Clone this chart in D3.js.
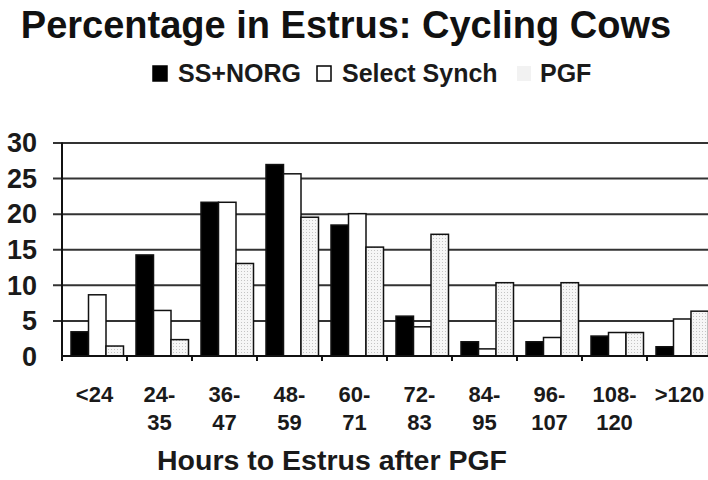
<html lang='en'>
<head>
    <meta content='text/html; charset=utf-8' http-equiv='Content-Type'>
    <title>Percentage in Estrus</title>
    <script src="https://d3js.org/d3.v7.min.js"></script>
    <style>
        body { margin: 0; background: #fff; }
        svg { font-family: "Liberation Sans", Arial, sans-serif; font-weight: bold; }
        .grid line { stroke: #333; stroke-width: 2px; }
        .grid path { display: none; }
        .axis path, .axis line { stroke: #111; stroke-width: 2px; fill: none; }
    </style>
</head>
<body>
<script>
var categories = ["<24", "24-35", "36-47", "48-59", "60-71", "72-83", "84-95", "96-107", "108-120", ">120"];
var tickLines = [["<24"], ["24-", "35"], ["36-", "47"], ["48-", "59"], ["60-", "71"], ["72-", "83"], ["84-", "95"], ["96-", "107"], ["108-", "120"], [">120"]];
var seriesNames = ["SS+NORG", "Select Synch", "PGF"];
var ssNorg      = [3.4, 14.2, 21.6, 26.9, 18.4, 5.6, 2.0, 2.0, 2.8, 1.3];
var selectSynch = [8.6, 6.4, 21.6, 25.6, 20.0, 4.1, 1.0, 2.6, 3.3, 5.2];
var pgf         = [1.4, 2.3, 13.0, 19.5, 15.3, 17.1, 10.3, 10.3, 3.3, 6.3];
var yTicks = [0, 5, 10, 15, 20, 25, 30];

var values = [ssNorg, selectSynch, pgf];
var width = 708, height = 480;
var plotLeft = 62, plotBottom = 356, plotTop = 142.5, plotRight = 712;

var svg = d3.select("body").append("svg")
    .attr("width", width)
    .attr("height", height);

var defs = svg.append("defs");
var pat = defs.append("pattern")
    .attr("id", "dots")
    .attr("width", 3).attr("height", 3)
    .attr("patternUnits", "userSpaceOnUse");
pat.append("rect").attr("width", 3).attr("height", 3).attr("fill", "#f6f6f6");
pat.append("rect").attr("x", 1).attr("y", 1).attr("width", 1).attr("height", 1).attr("fill", "#c4c4c4");

var fills = ["#000", "#fff", "url(#dots)"];

var x = d3.scaleBand().domain(categories).range([plotLeft, plotRight]);
var x1 = d3.scaleBand().domain(seriesNames).range([9, 61.5]);
var y = d3.scaleLinear().domain([0, 30]).range([plotBottom, plotTop]);

// title
svg.append("text")
    .attr("x", 346).attr("y", 38)
    .attr("text-anchor", "middle")
    .style("font-size", "38px")
    .attr("fill", "#111")
    .text("Percentage in Estrus: Cycling Cows");

// legend
var legendX = [153, 317, 517];
var legend = svg.append("g");
seriesNames.forEach(function(name, i) {
    var g = legend.append("g").attr("transform", "translate(" + legendX[i] + ",66)");
    g.append("rect")
        .attr("width", 14).attr("height", 15)
        .attr("fill", i == 2 ? "#f2f2f2" : fills[i])
        .attr("stroke", i == 2 ? "none" : "#000")
        .attr("stroke-width", 1.5);
    g.append("text")
        .attr("x", i == 2 ? 23 : 25).attr("y", 16)
        .style("font-size", "25px")
        .attr("fill", "#1a1a1a")
        .text(name);
});

// gridlines
svg.append("g")
    .attr("class", "grid")
    .attr("transform", "translate(" + plotLeft + ",0)")
    .call(d3.axisLeft(y).tickValues(yTicks.slice(1)).tickSize(-(plotRight - plotLeft)).tickFormat(""))
    .selectAll("line").attr("x1", -9);

// y labels
svg.append("g")
    .selectAll("text")
    .data(yTicks)
    .join("text")
    .attr("x", 37)
    .attr("y", function(d) { return y(d); })
    .attr("dy", "0.36em")
    .attr("text-anchor", "end")
    .style("font-size", "27px")
    .attr("fill", "#1a1a1a")
    .text(function(d) { return d; });

// bars
var groups = svg.append("g")
    .selectAll("g")
    .data(categories)
    .join("g")
    .attr("transform", function(d) { return "translate(" + x(d) + ",0)"; });

groups.selectAll("rect")
    .data(function(d, i) {
        return seriesNames.map(function(s, j) { return {s: s, j: j, v: values[j][i]}; });
    })
    .join("rect")
    .attr("x", function(d) { return x1(d.s); })
    .attr("width", x1.bandwidth())
    .attr("y", function(d) { return y(d.v); })
    .attr("height", function(d) { return plotBottom - y(d.v); })
    .attr("fill", function(d) { return fills[d.j]; })
    .attr("stroke", "#111")
    .attr("stroke-width", 1.5);

// x axis
var xAxis = svg.append("g")
    .attr("class", "axis")
    .attr("transform", "translate(0," + plotBottom + ")")
    .call(d3.axisBottom(x).tickSize(0).tickFormat(""));
xAxis.select("path").attr("d", "M" + plotLeft + ",0H" + plotRight);
xAxis.selectAll(".tick").remove();

svg.append("g")
    .selectAll("line")
    .data(categories)
    .join("line")
    .attr("x1", function(d) { return x(d); })
    .attr("x2", function(d) { return x(d); })
    .attr("y1", plotBottom)
    .attr("y2", plotBottom + 5)
    .attr("stroke", "#111")
    .attr("stroke-width", 2);

// y axis line
svg.append("line")
    .attr("x1", plotLeft).attr("x2", plotLeft)
    .attr("y1", plotTop).attr("y2", plotBottom + 4)
    .attr("stroke", "#111").attr("stroke-width", 2);

// x labels
var labels = svg.append("g")
    .selectAll("text")
    .data(categories)
    .join("text")
    .attr("x", function(d) { return x(d) + x.bandwidth() / 2; })
    .attr("y", 402)
    .attr("text-anchor", "middle")
    .style("font-size", "22px")
    .attr("fill", "#1a1a1a");
labels.each(function(d, i) {
    var t = d3.select(this);
    tickLines[i].forEach(function(line, k) {
        t.append("tspan")
            .attr("x", x(d) + x.bandwidth() / 2)
            .attr("dy", k == 0 ? 0 : 28)
            .text(line);
    });
});

// axis title
svg.append("text")
    .attr("x", 332).attr("y", 470)
    .attr("text-anchor", "middle")
    .style("font-size", "28.5px")
    .attr("fill", "#1a1a1a")
    .text("Hours to Estrus after PGF");
</script>
</body>
</html>
